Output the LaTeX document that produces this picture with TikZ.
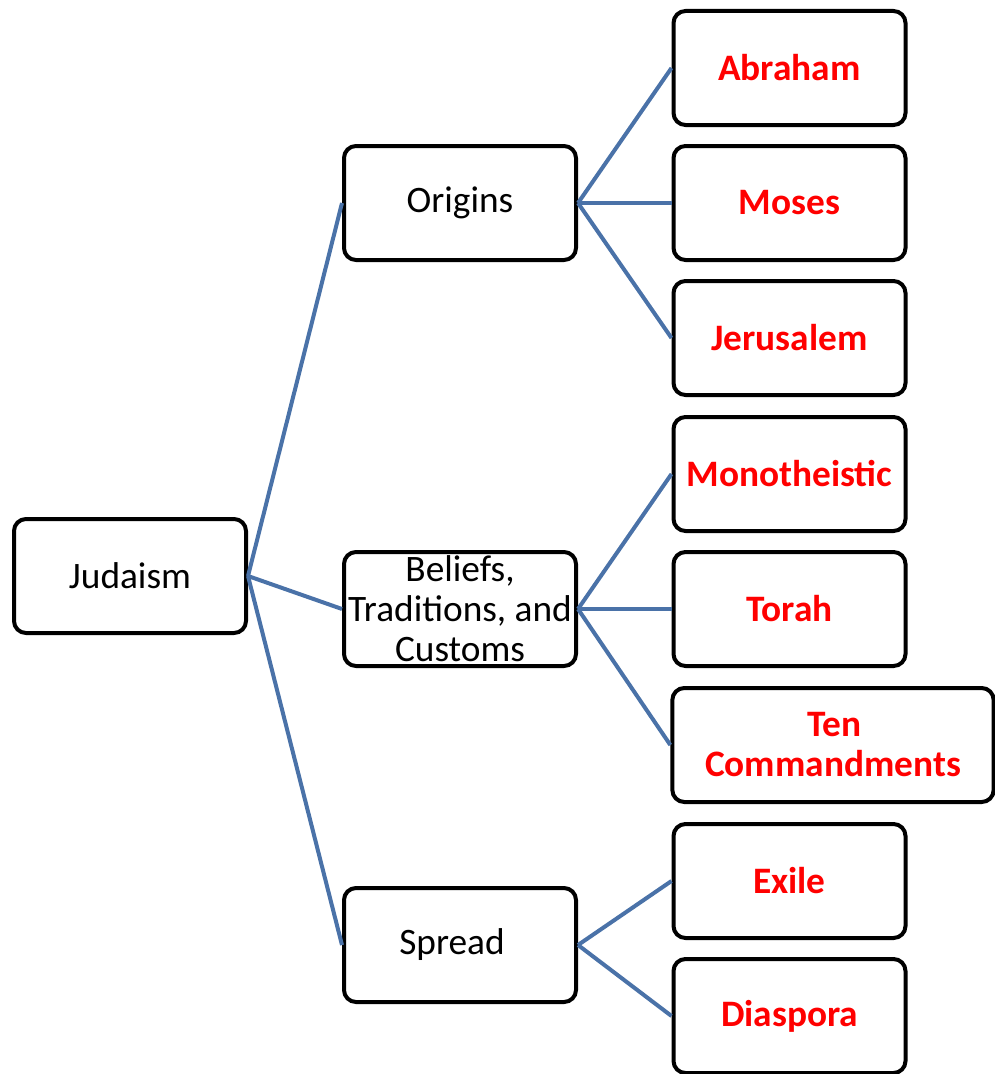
\documentclass[tikz,border=0pt]{standalone}
\usepackage{fontspec}
\setmainfont{Carlito}
\usepackage{tikz}
\definecolor{linkblue}{RGB}{74,114,168}

\begin{document}
\begin{tikzpicture}[x=0.75pt, y=-0.75pt,
        box/.style={draw, line width=3pt, rounded corners=9pt, fill=white,
            minimum width=174pt, minimum height=85.5pt, inner sep=0pt, align=center,
            font=\fontsize{28}{30}\selectfont},
        topic/.style={box, text=red, font=\fontsize{28}{30}\selectfont\bfseries},
        link/.style={draw=linkblue, line width=3pt}]
        \useasboundingbox (0,0) rectangle (995,1074);

        % Root
        \node[box] (judaism) at (130,576) {Judaism};

        % Main branches
        \node[box] (origins) at (460,203) {Origins};
        \node[box] (beliefs) at (460,609) {Beliefs,\\Traditions, and\\Customs};
        \node[box] (spread) at (460,945) {\hspace*{-12pt}Spread};

        % Origins
        \node[topic] (abraham) at (789.5,68) {Abraham};
        \node[topic] (moses) at (789.5,203) {Moses};
        \node[topic] (jerusalem) at (789.5,338) {Jerusalem};

        % Beliefs, traditions and customs
        \node[topic] (monotheistic) at (789.5,474) {Monotheistic};
        \node[topic] (torah) at (789.5,609) {Torah};
        \node[topic, minimum width=241pt] (commandments) at (833,745) {\hspace*{2pt}Ten\\Commandments};

        % Spread
        \node[topic] (exile) at (789.5,881) {Exile};
        \node[topic] (diaspora) at (789.5,1016) {Diaspora};

        % Connectors
        \draw[link] (judaism.east) -- (origins.west);
        \draw[link] (judaism.east) -- (beliefs.west);
        \draw[link] (judaism.east) -- (spread.west);

        \draw[link] (origins.east) -- (abraham.west);
        \draw[link] (origins.east) -- (moses.west);
        \draw[link] (origins.east) -- (jerusalem.west);

        \draw[link] (beliefs.east) -- (monotheistic.west);
        \draw[link] (beliefs.east) -- (torah.west);
        \draw[link] (beliefs.east) -- (commandments.west);

        \draw[link] (spread.east) -- (exile.west);
        \draw[link] (spread.east) -- (diaspora.west);
    \end{tikzpicture}
\end{document}
